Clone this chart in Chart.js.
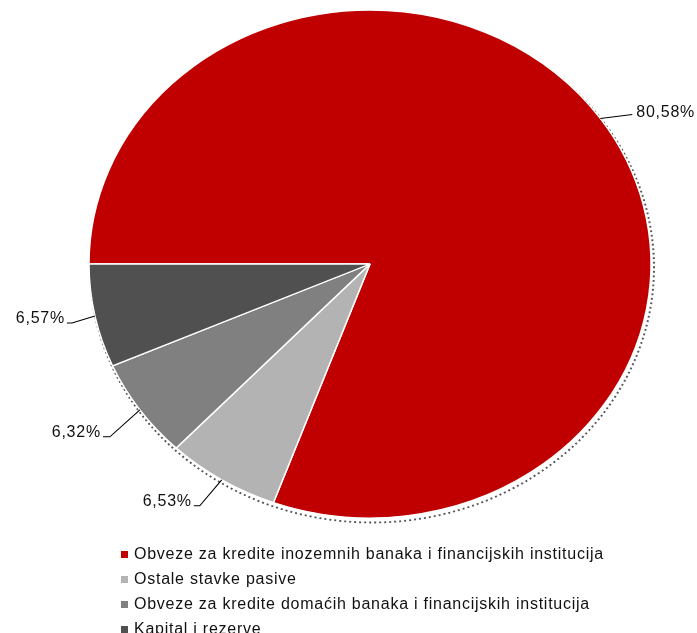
<!DOCTYPE html>
<html>
<head>
<meta charset="utf-8">
<script src="https://cdn.jsdelivr.net/npm/chart.js@4.4.1/dist/chart.umd.min.js"></script>
<style>
  html, body { margin: 0; padding: 0; background: #ffffff; }
  #wrap { position: relative; width: 697px; height: 633px; }
</style>
</head>
<body>
<div id="wrap"><canvas id="c" width="697" height="633"></canvas></div>
<script>
// ---- data ----
const categories = [
  'Obveze za kredite inozemnih banaka i financijskih institucija',
  'Ostale stavke pasive',
  'Obveze za kredite domaćih banaka i financijskih institucija',
  'Kapital i rezerve'
];
const shares = [80.58, 6.53, 6.32, 6.57];
const valueLabels = ['80,58%', '6,53%', '6,32%', '6,57%'];
const sliceColors = ['#C00000', '#B3B3B3', '#808080', '#505050'];

// ---- layout / style (not data) ----
const FONT = '16px "Liberation Sans", Arial, sans-serif';
const LETTER_SPACING = '0.75px';
const yScale = 254 / 281;       // pie is drawn slightly flattened
const yShift = 10;
// leader-line geometry per slice: elbow offset from the rim point, horizontal stub length, side
const leaderLayout = [
  { dx: 32, dy: -4, stub: 0, side: 'right' },
  { dx: -22, dy: 26, stub: 6, side: 'left' },
  { dx: -30, dy: 27, stub: 7, side: 'left' },
  { dx: -23, dy: 7, stub: 5, side: 'left' }
];

const ellipsePlugin = {
  id: 'ellipse',
  beforeDatasetsDraw(chart) {
    const ctx = chart.ctx;
    ctx.save();
    ctx.translate(0, yShift);
    ctx.scale(1, yScale);
    // dotted drop shadow behind the pie
    const arc = chart.getDatasetMeta(0).data[0];
    if (arc) {
      ctx.save();
      ctx.beginPath();
      ctx.setLineDash([2, 3]);
      ctx.lineWidth = 2;
      ctx.strokeStyle = 'rgba(30,30,30,0.75)';
      ctx.arc(arc.x + 2, arc.y + 4, arc.outerRadius + 1, -Math.PI * 0.25, Math.PI * 1.02);
      ctx.stroke();
      ctx.restore();
    }
  },
  afterDatasetsDraw(chart) {
    chart.ctx.restore();
  }
};

const labelPlugin = {
  id: 'labels',
  afterDraw(chart) {
    const ctx = chart.ctx;
    const meta = chart.getDatasetMeta(0);
    ctx.save();
    ctx.font = FONT;
    if ('letterSpacing' in ctx) ctx.letterSpacing = LETTER_SPACING;
    ctx.fillStyle = '#111111';
    ctx.strokeStyle = '#000000';
    ctx.lineWidth = 1.1;
    meta.data.forEach((el, i) => {
      const a = (el.startAngle + el.endAngle) / 2;
      const px = el.x + el.outerRadius * Math.cos(a);
      const py = yShift + yScale * (el.y + el.outerRadius * Math.sin(a));
      const L = leaderLayout[i];
      const ex = px + L.dx, ey = py + L.dy;
      ctx.beginPath();
      ctx.moveTo(px, py);
      ctx.lineTo(ex, ey);
      let tx = ex;
      if (L.side === 'left') {
        tx = ex - L.stub;
        ctx.lineTo(tx, ey);
      }
      ctx.stroke();
      ctx.textBaseline = 'middle';
      if (L.side === 'left') {
        ctx.textAlign = 'right';
        ctx.fillText(valueLabels[i], tx - 2, ey - 4);
      } else {
        ctx.textAlign = 'left';
        ctx.fillText(valueLabels[i], tx + 4, ey - 2);
      }
    });
    // legend
    const lx = 121, ly0 = 554, step = 25;
    categories.forEach((name, i) => {
      const y = ly0 + i * step;
      ctx.fillStyle = sliceColors[i];
      ctx.fillRect(lx, y - 3, 7, 7);
      ctx.fillStyle = '#111111';
      ctx.textAlign = 'left';
      ctx.textBaseline = 'middle';
      ctx.fillText(name, lx + 13, y + 1);
    });
    ctx.restore();
  }
};

new Chart(document.getElementById('c'), {
  type: 'pie',
  data: {
    labels: categories,
    datasets: [{
      data: shares,
      backgroundColor: sliceColors,
      borderColor: '#ffffff',
      borderWidth: 1.5
    }]
  },
  options: {
    responsive: false,
    animation: false,
    events: [],
    rotation: -90,
    radius: 281,
    layout: { padding: { left: 89, right: 46, top: 0, bottom: 71 } },
    plugins: {
      legend: { display: false },
      tooltip: { enabled: false }
    }
  },
  plugins: [ellipsePlugin, labelPlugin]
});
</script>
</body>
</html>
